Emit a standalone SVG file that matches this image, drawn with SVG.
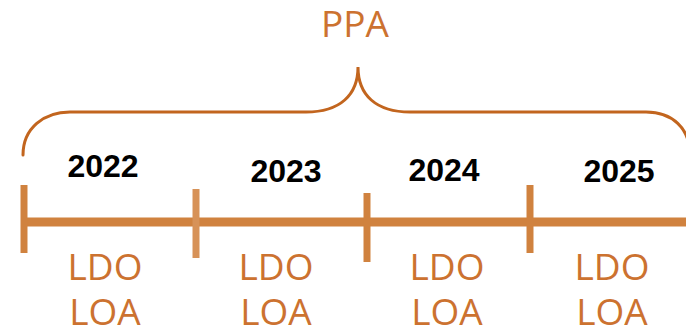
<svg xmlns="http://www.w3.org/2000/svg" width="686" height="332" viewBox="0 0 686 332">
<style>
.lbl{font-family:"Open Sans","Noto Sans",sans-serif;font-size:37px;fill:#CC7230;text-anchor:middle}
.yr{font-family:"Liberation Sans",Arial,sans-serif;font-size:32px;font-weight:bold;fill:#000;text-anchor:middle}
.bar{stroke:#D0823F;stroke-width:9;fill:none}
.tick{stroke:#D0823F;stroke-width:7;fill:none}
.brace{stroke:#C2651E;stroke-width:3;fill:none;stroke-linecap:round}
</style>
<rect width="686" height="332" fill="#fff"/>
<g id="ppa">
<text class="lbl" x="355" y="37">PPA</text>
</g>
<g id="connectors">
<path class="brace" d="M23,155 C23,128 44,112 70,112 L306,112 C340,112 358,95 358,67 C358,95 376,112 410,112 L646,112 C672,112 690,128 690,155"/>
<line class="bar" x1="22" y1="222" x2="686" y2="222"/>
<line class="tick" x1="24" y1="185" x2="24" y2="253"/>
<line class="tick" x1="196" y1="189" x2="196" y2="258" style="stroke:#D79258"/>
<line class="tick" x1="367" y1="193" x2="367" y2="262"/>
<line class="tick" x1="530" y1="185" x2="530" y2="253"/>
</g>
<g id="y2022"><text class="yr" x="103" y="177">2022</text>
<text class="lbl" x="105" y="280">LDO</text><text class="lbl" x="105" y="325">LOA</text></g>
<g id="y2023"><text class="yr" x="286" y="182">2023</text>
<text class="lbl" x="276" y="280">LDO</text><text class="lbl" x="276" y="325">LOA</text></g>
<g id="y2024"><text class="yr" x="444" y="181">2024</text>
<text class="lbl" x="447" y="280">LDO</text><text class="lbl" x="447" y="325">LOA</text></g>
<g id="y2025"><text class="yr" x="619" y="182">2025</text>
<text class="lbl" x="612" y="280">LDO</text><text class="lbl" x="612" y="325">LOA</text></g>
</svg>
